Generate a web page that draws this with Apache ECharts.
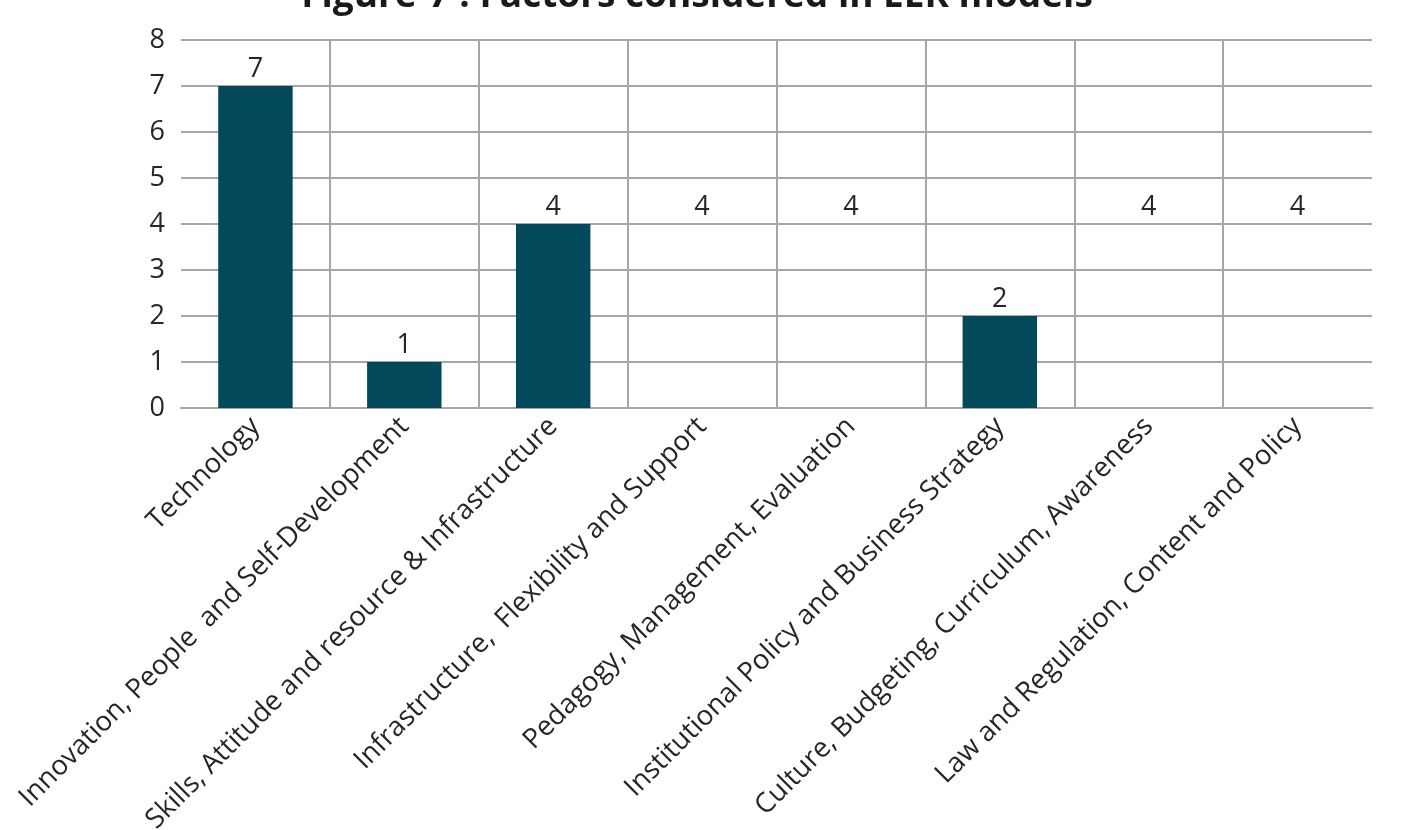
<!DOCTYPE html>
<html>
<head>
<meta charset="utf-8">
<title>Factors considered in EER models</title>
<script src="https://cdn.jsdelivr.net/npm/echarts@6/dist/echarts.min.js"></script>
<style>
  html, body { margin: 0; padding: 0; background: #fff; }
  #chart-bar { width: 1410px; height: 830px; }
</style>
</head>
<body>
<div id="chart-bar"></div>
<script>
const categories = [
  'Technology',
  'Innovation, People  and Self-Development',
  'Skills, Attitude and resource & Infrastructure',
  'Infrastructure,  Flexibility and Support',
  'Pedagogy, Management, Evaluation',
  'Institutional Policy and Business Strategy',
  'Culture, Budgeting, Curriculum, Awareness',
  'Law and Regulation, Content and Policy'
];
const counts = [7, 1, 4, 4, 4, 2, 4, 4];
const yTicks = [0, 1, 2, 3, 4, 5, 6, 7, 8];

// in the source figure these columns carry a label but no visible fill
const hollowBars = [3, 4, 6, 7];

const chart = echarts.init(document.getElementById('chart-bar'));

const textColor = '#262626';
const gridColor = '#a6a6a6';
const font = '"Open Sans", "Noto Sans", sans-serif';

chart.setOption({
  animation: false,
  title: {
    text: 'Figure-7 : Factors considered in EER models',
    left: 692,
    textAlign: 'center',
    top: -27,
    textStyle: {
      fontFamily: font,
      fontSize: 37,
      fontWeight: 'bold',
      color: '#1a1a1a'
    }
  },
  grid: {
    left: 181,
    right: 38,
    top: 40,
    bottom: 422,
    containLabel: false,
    outerBoundsMode: 'none'
  },
  xAxis: {
    type: 'category',
    data: categories,
    axisLine: { show: true, lineStyle: { color: gridColor, width: 2 } },
    axisTick: { show: false },
    splitLine: {
      show: true,
      showMinLine: false,
      showMaxLine: false,
      lineStyle: { color: gridColor, width: 2 }
    },
    axisLabel: {
      interval: 0,
      rotate: 45,
      margin: 14,
      fontFamily: font,
      fontSize: 27.5,
      color: textColor
    }
  },
  yAxis: {
    type: 'value',
    min: yTicks[0],
    max: yTicks[yTicks.length - 1],
    interval: 1,
    axisLine: { show: false },
    axisTick: { show: false },
    splitLine: { lineStyle: { color: gridColor, width: 2 } },
    axisLabel: {
      margin: 16,
      fontFamily: font,
      fontSize: 27,
      color: textColor
    }
  },
  series: [
    {
      type: 'bar',
      barWidth: '50%',
      data: counts.map((v, i) => ({
        value: v,
        itemStyle: hollowBars.includes(i) ? { color: 'rgba(0,0,0,0)' } : undefined
      })),
      itemStyle: { color: '#02495c' },
      label: {
        show: true,
        position: 'top',
        distance: 3,
        fontFamily: font,
        fontSize: 27,
        color: textColor
      }
    }
  ]
});
</script>
</body>
</html>
